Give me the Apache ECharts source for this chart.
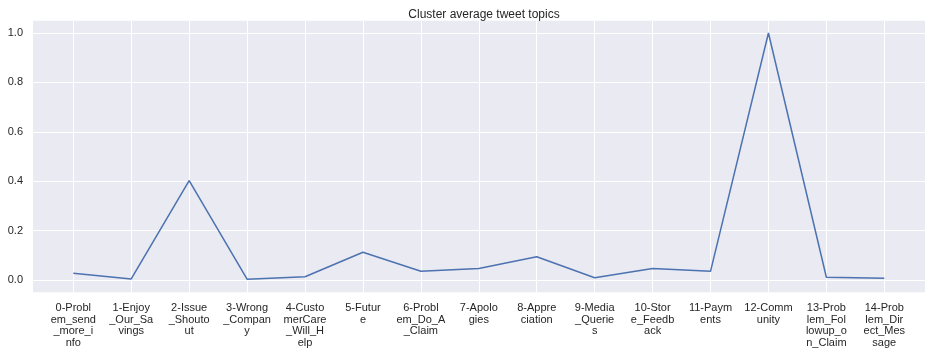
<!DOCTYPE html>
<html>
<head>
<meta charset="utf-8">
<script src="https://cdn.jsdelivr.net/npm/echarts@6/dist/echarts.min.js"></script>
<style>
  html, body { margin: 0; padding: 0; background: #fff; }
  #chart { width: 938px; height: 354px; }
</style>
</head>
<body>
<div id="chart"></div>
<script>
const categories = [
  '0-Probl\nem_send\n_more_i\nnfo',
  '1-Enjoy\n_Our_Sa\nvings',
  '2-Issue\n_Shouto\nut',
  '3-Wrong\n_Compan\ny',
  '4-Custo\nmerCare\n_Will_H\nelp',
  '5-Futur\ne',
  '6-Probl\nem_Do_A\n_Claim',
  '7-Apolo\ngies',
  '8-Appre\nciation',
  '9-Media\n_Querie\ns',
  '10-Stor\ne_Feedb\nack',
  '11-Paym\nents',
  '12-Comm\nunity',
  '13-Prob\nlem_Fol\nlowup_o\nn_Claim',
  '14-Prob\nlem_Dir\nect_Mes\nsage'
]
const values = [0.027, 0.004, 0.402, 0.003, 0.013, 0.112, 0.035, 0.046, 0.094, 0.009, 0.046, 0.035, 1.0, 0.011, 0.007]
const yTicks = [0, 0.2, 0.4, 0.6, 0.8, 1.0]

const font = '"Liberation Sans", Arial, sans-serif'
const textColor = '#262626'

const chart = echarts.init(document.getElementById('chart'))
chart.setOption({
  animation: false,
  title: {
    text: 'Cluster average tweet topics',
    left: 479,
    top: 4,
    textAlign: 'center',
    textStyle: { fontFamily: font, fontSize: 12, fontWeight: 'normal', color: textColor }
  },
  grid: [
    // background panel
    { left: 33, right: 13, top: 20.7, bottom: 61.7, show: true, backgroundColor: '#EAEAF2', borderWidth: 0 },
    // y ticks / horizontal grid
    { left: 33, right: 13, top: 33, bottom: 74 },
    // data area
    { left: 73.3, right: 53.7, top: 20.7, bottom: 61.7 }
  ],
  xAxis: [
    { gridIndex: 0, type: 'value', show: false },
    { gridIndex: 1, type: 'value', show: false },
    {
      gridIndex: 2, type: 'value', min: 0, max: 14, interval: 1,
      axisLine: { show: false }, axisTick: { show: false },
      splitLine: { show: true, lineStyle: { color: '#fff', width: 1 } },
      axisLabel: {
        margin: 10, fontFamily: font, fontSize: 11, color: textColor, lineHeight: 11.5,
        formatter: v => categories[v] || ''
      }
    }
  ],
  yAxis: [
    { gridIndex: 0, type: 'value', show: false },
    {
      gridIndex: 1, type: 'value', min: 0, max: 1, interval: 0.2,
      axisLine: { show: false }, axisTick: { show: false },
      splitLine: { show: true, lineStyle: { color: '#fff', width: 1 } },
      axisLabel: {
        margin: 10, fontFamily: font, fontSize: 11, color: textColor,
        formatter: v => (yTicks.some(t => Math.abs(t - v) < 1e-9) ? v.toFixed(1) : '')
      }
    },
    { gridIndex: 2, type: 'value', min: -0.05, max: 1.05, show: false }
  ],
  series: [{
    type: 'line',
    xAxisIndex: 2,
    yAxisIndex: 2,
    data: values.map((v, i) => [i, v]),
    symbol: 'none',
    lineStyle: { color: '#4C72B0', width: 1.5 }
  }]
})
</script>
</body>
</html>
